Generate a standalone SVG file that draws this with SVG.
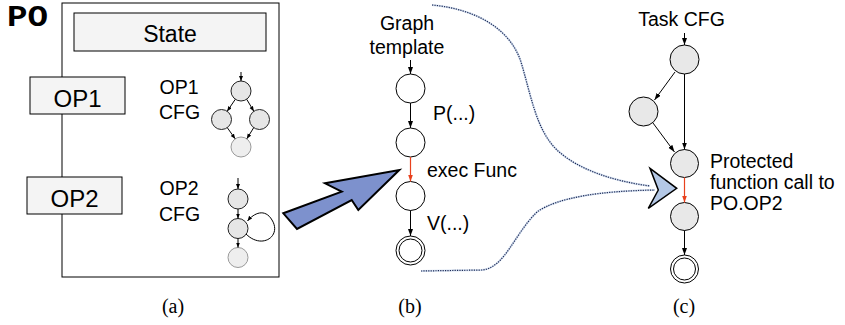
<svg xmlns="http://www.w3.org/2000/svg" width="845" height="325" viewBox="0 0 845 325">
<style>
text{font-family:"Liberation Sans",Arial,sans-serif;fill:#000}
.lbl{font-size:19.5px}
.cap{font-family:"Liberation Serif","Times New Roman",serif;font-size:20px}
.box{fill:#f4f4f4;stroke:#000;stroke-width:1}
.ln{stroke:#000;stroke-width:1;fill:none}
.red{stroke:#e8411d;stroke-width:1.2;fill:none}
.wc{fill:#fff;stroke:#000;stroke-width:1}
.gc{fill:#e8e8e8;stroke:#000;stroke-width:1}
.mc{fill:#e6e6e6;stroke:#222;stroke-width:1}
.fc{fill:#eeeeee;stroke:#9a9a9a;stroke-width:1}
.dot{fill:none;stroke:#1e2a55;stroke-width:1.2;stroke-dasharray:1.2 1.2}
.halo{fill:none;stroke:#d3dff0;stroke-width:2}
</style>
<defs>
<marker id="ah" markerUnits="userSpaceOnUse" markerWidth="8" markerHeight="6" refX="7" refY="2.5" orient="auto"><path d="M0,0 L7,2.5 L0,5 z" fill="#000"/></marker>
<marker id="ahr" markerUnits="userSpaceOnUse" markerWidth="8" markerHeight="6" refX="7" refY="2.5" orient="auto"><path d="M0,0 L7,2.5 L0,5 z" fill="#e8411d"/></marker>
<marker id="ahs" markerUnits="userSpaceOnUse" markerWidth="6" markerHeight="5" refX="5" refY="2" orient="auto"><path d="M0,0 L5,2 L0,4 z" fill="#000"/></marker>
</defs>

<!-- Panel (a) -->
<g id="po-label"><text x="7" y="26" style="font-family:'Liberation Mono','Courier New',monospace;font-weight:bold;font-size:30px" textLength="41" lengthAdjust="spacingAndGlyphs">PO</text></g>
<g id="po-box"><rect x="62" y="3" width="217" height="274" fill="#fff" stroke="#000" stroke-width="1"/></g>
<g id="state"><rect class="box" x="74" y="13" width="192" height="38"/><text x="170" y="42" text-anchor="middle" style="font-size:23px">State</text></g>
<g id="op1"><rect class="box" x="30" y="77" width="95" height="37"/><text x="77.5" y="107" text-anchor="middle" style="font-size:24px">OP1</text></g>
<g id="op2"><rect class="box" x="27" y="177" width="95" height="37"/><text x="74.5" y="207" text-anchor="middle" style="font-size:24px">OP2</text></g>
<g id="op1-cfg-label"><text class="lbl" x="179" y="94" text-anchor="middle">OP1</text><text class="lbl" x="179.5" y="119" text-anchor="middle">CFG</text></g>
<g id="op2-cfg-label"><text class="lbl" x="179" y="195" text-anchor="middle">OP2</text><text class="lbl" x="179.5" y="221" text-anchor="middle">CFG</text></g>

<g id="op1-cfg">
<circle class="mc" cx="241" cy="91" r="10"/>
<circle class="mc" cx="221.5" cy="119.5" r="10"/>
<circle class="mc" cx="259.5" cy="119.5" r="10"/>
<circle class="fc" cx="241" cy="147" r="10"/>
</g>
<g id="op2-cfg">
<circle class="mc" cx="238" cy="199" r="10"/>
<circle class="mc" cx="238" cy="228.5" r="10"/>
<circle class="fc" cx="238" cy="257.5" r="10"/>
</g>

<!-- Panel (b) -->
<g id="graph-template"><text class="lbl" x="407" y="30" text-anchor="middle">Graph</text><text class="lbl" x="407" y="54" text-anchor="middle">template</text></g>
<g id="b-n1"><circle class="wc" cx="410.5" cy="88.5" r="14.5"/></g>
<g id="b-n2"><circle class="wc" cx="410.5" cy="142.5" r="14.5"/></g>
<g id="b-n3"><circle class="wc" cx="410.5" cy="196" r="14.5"/></g>
<g id="b-n4"><circle class="wc" cx="410.5" cy="250.5" r="14.5"/><circle class="wc" cx="410.5" cy="250.5" r="11.5"/></g>
<g id="b-labels"><text class="lbl" x="433" y="120">P(...)</text><text class="lbl" x="427" y="177">exec Func</text><text class="lbl" x="427" y="230">V(...)</text></g>

<!-- Panel (c) -->
<g id="task-cfg"><text class="lbl" x="681.5" y="26" text-anchor="middle">Task CFG</text></g>
<g id="c-n1"><circle class="gc" cx="684.5" cy="59.5" r="14.5"/></g>
<g id="c-n2"><circle class="gc" cx="643.5" cy="111.5" r="14.5"/></g>
<g id="c-n3"><circle class="gc" cx="684.5" cy="163.5" r="14"/></g>
<g id="c-n4"><circle class="gc" cx="684.5" cy="216.5" r="14"/></g>
<g id="c-n5"><circle class="wc" cx="684.5" cy="269" r="14"/><circle class="wc" cx="684.5" cy="269" r="11"/></g>
<g id="c-label"><text class="lbl" x="710" y="168">Protected</text><text class="lbl" x="710" y="189">function call to</text><text class="lbl" x="710" y="210">PO.OP2</text></g>

<!-- Blue arrow and chevron -->
<g id="big-arrow">
<polygon points="399.3,170 358.3,210 351.7,200 297,229 283.3,213.3 341.7,191.7 325,183.3" fill="#7d91cd" stroke="#000" stroke-width="2" stroke-linejoin="miter"/>
</g>
<g id="chevron"><polygon points="650,168.3 676.7,188.3 648.3,208.3 658.3,190" fill="#b4c8e6" stroke="#000" stroke-width="1.5"/></g>

<g id="connectors">
<!-- mini OP1 -->
<line class="ln" x1="241" y1="72" x2="241" y2="81" marker-end="url(#ahs)"/>
<line class="ln" x1="235.3" y1="99.3" x2="227.2" y2="111.2" marker-end="url(#ahs)"/>
<line class="ln" x1="246.7" y1="99.3" x2="253.8" y2="111.2" marker-end="url(#ahs)"/>
<line class="ln" x1="227.3" y1="127.7" x2="235.2" y2="138.8" marker-end="url(#ahs)"/>
<line class="ln" x1="253.7" y1="127.7" x2="246.8" y2="138.8" marker-end="url(#ahs)"/>
<!-- mini OP2 -->
<line class="ln" x1="238" y1="178" x2="238" y2="189" marker-end="url(#ahs)"/>
<line class="ln" x1="238" y1="209" x2="238" y2="218.5" marker-end="url(#ahs)"/>
<line class="ln" x1="238" y1="238.5" x2="238" y2="247.5" marker-end="url(#ahs)"/>
<path class="ln" d="M246,234 C262,250 282,236 272,220 C265,208 254,213 247.5,221" marker-end="url(#ahs)"/>
<!-- panel b -->
<line class="ln" x1="410.5" y1="60" x2="410.5" y2="74" marker-end="url(#ah)"/>
<line class="ln" x1="410.5" y1="103" x2="410.5" y2="128" marker-end="url(#ah)"/>
<line class="red" x1="410.5" y1="157" x2="410.5" y2="181.5" marker-end="url(#ahr)"/>
<line class="ln" x1="410.5" y1="210.5" x2="410.5" y2="236" marker-end="url(#ah)"/>
<!-- panel c -->
<line class="ln" x1="684.5" y1="33" x2="684.5" y2="45" marker-end="url(#ah)"/>
<line class="ln" x1="675" y1="72" x2="654.5" y2="100" marker-end="url(#ah)"/>
<line class="ln" x1="684.5" y1="74" x2="684.5" y2="149.5" marker-end="url(#ah)"/>
<line class="ln" x1="653" y1="123" x2="674.5" y2="152" marker-end="url(#ah)"/>
<line class="red" x1="684.5" y1="177.5" x2="684.5" y2="202.5" marker-end="url(#ahr)"/>
<line class="ln" x1="684.5" y1="230.5" x2="684.5" y2="255" marker-end="url(#ah)"/>
<!-- dotted curves -->
<path class="halo" d="M432,5 C475,9 510,28 521,62 C531,95 536,130 557,150 C577,169 612,181 650,186"/>
<path class="dot" d="M432,5 C475,9 510,28 521,62 C531,95 536,130 557,150 C577,169 612,181 650,186"/>
<path class="halo" d="M421,271 L482,270 C505,268 514,234 537,212 C558,197 602,191 655,190"/>
<path class="dot" d="M421,271 L482,270 C505,268 514,234 537,212 C558,197 602,191 655,190"/>
</g>

<g id="captions">
<text class="cap" x="173" y="313" text-anchor="middle">(a)</text>
<text class="cap" x="410" y="313" text-anchor="middle">(b)</text>
<text class="cap" x="684" y="313" text-anchor="middle">(c)</text>
</g>
</svg>
